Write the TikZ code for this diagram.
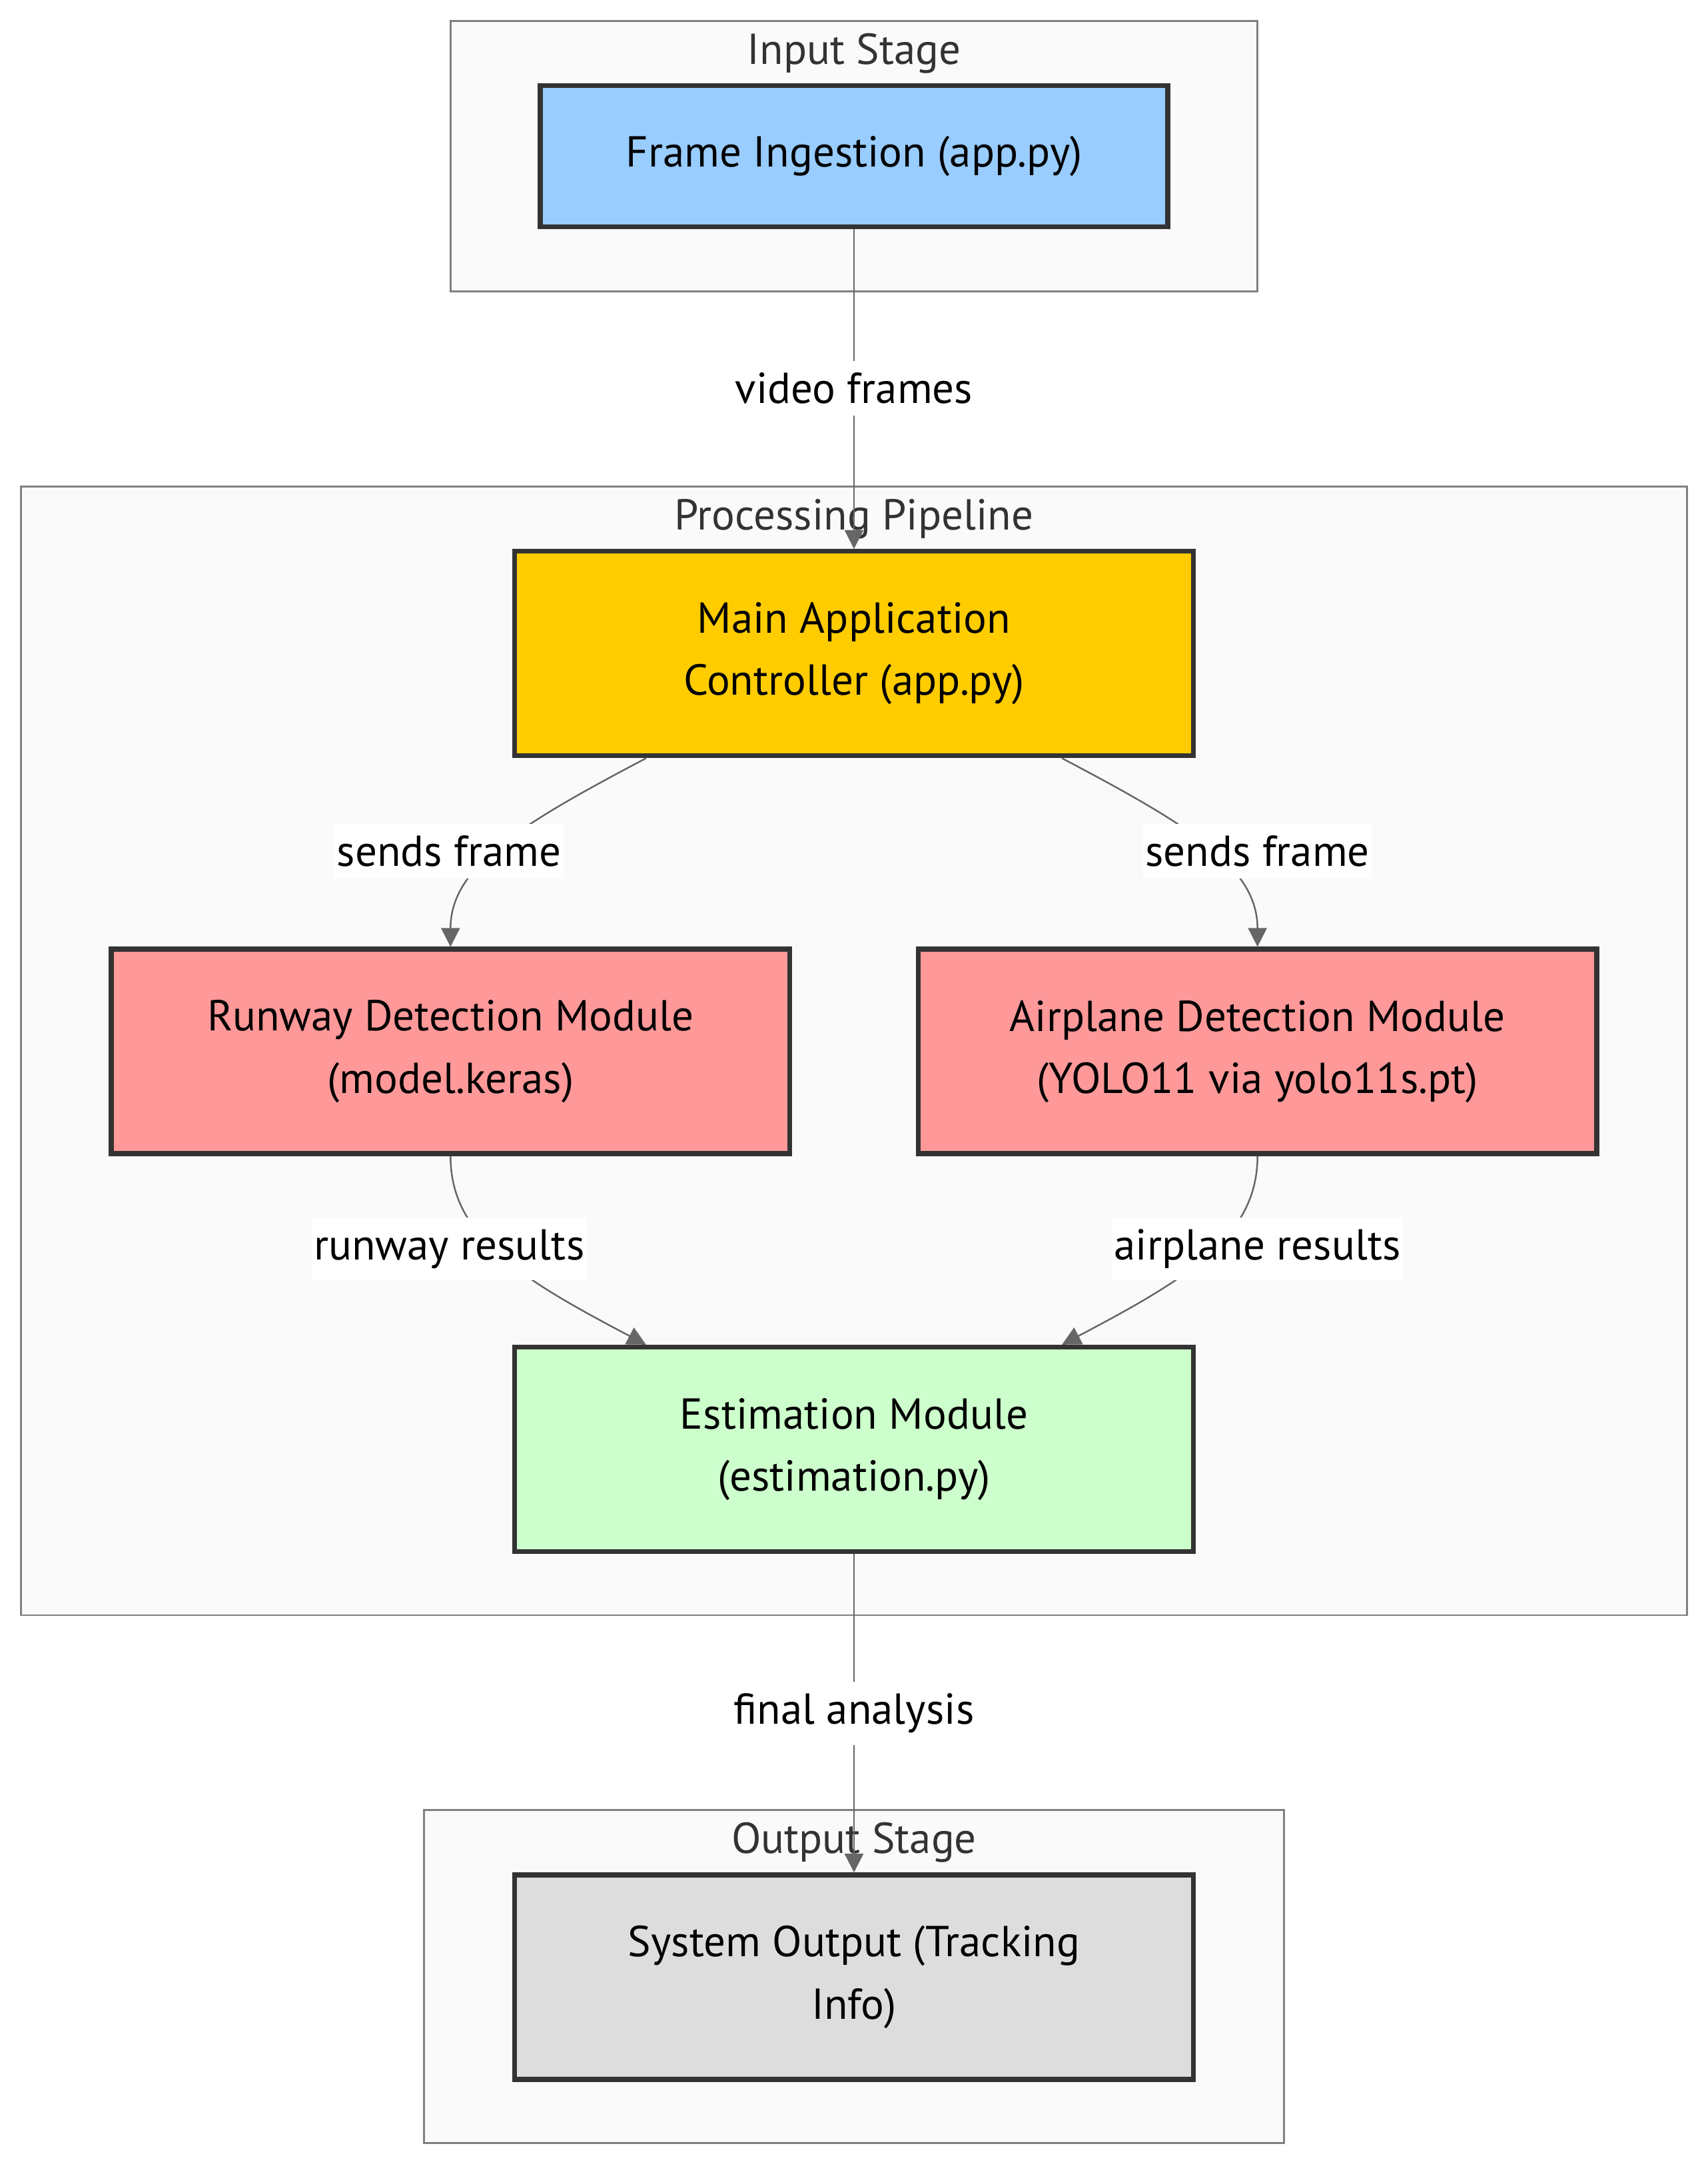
\documentclass[tikz,border=0pt]{standalone}
\usepackage{fontspec}
\setmainfont{PT Sans}
\usepackage{tikz}
\usetikzlibrary{arrows.meta, calc}
\definecolor{inblue}{HTML}{99CCFF}
\definecolor{ctrlyellow}{HTML}{FFCC00}
\definecolor{detred}{HTML}{FF9999}
\definecolor{estgreen}{HTML}{CCFFCC}
\definecolor{outgray}{HTML}{DDDDDD}
\definecolor{boxline}{HTML}{333333}
\definecolor{edgegray}{HTML}{666666}
\definecolor{clusterfill}{HTML}{FAFAFA}
\definecolor{clusterline}{HTML}{808080}
\tikzstyle{cluster} = [draw = clusterline, fill = clusterfill, line width=0.8pt]
\tikzstyle{clustertitle} = [text = boxline, font=\fontsize{18.5}{22}\selectfont]
\tikzstyle{ingest} = [rectangle, minimum width=9.418cm, minimum height=2.116cm, text centered, align=center, draw = boxline, line width=2.1pt, fill = inblue, font=\fontsize{18.5}{26.5}\selectfont]
\tikzstyle{control} = [rectangle, minimum width=10.185cm, minimum height=3.07cm, text centered, align=center, draw = boxline, line width=2.1pt, fill = ctrlyellow, font=\fontsize{18.5}{26.5}\selectfont]
\tikzstyle{detect} = [control, fill = detred]
\tikzstyle{estimate} = [control, fill = estgreen]
\tikzstyle{sysout} = [control, fill = outgray]
\tikzstyle{edgelabel} = [fill = white, inner xsep=1pt, inner ysep=5pt, font=\fontsize{18.5}{22}\selectfont]
\tikzstyle{arrow} = [-{Triangle[length=8pt, width=8pt]}, draw = edgegray, line width=0.7pt]

\begin{document}
\begin{tikzpicture}
	\useasboundingbox (0,0) rectangle (25.64,-32.52);
	% subgraphs
	\draw [cluster] (6.763,-0.311) rectangle (18.877,-4.377);
	\draw [cluster] (0.311,-7.302) rectangle (25.328,-24.250);
	\draw [cluster] (6.368,-27.175) rectangle (19.271,-32.174);
	\node (intitle) [clustertitle] at (12.82,-0.80) {Input Stage};
	\node (proctitle) [clustertitle] at (12.82,-7.79) {Processing Pipeline};
	\node (outtitle) [clustertitle] at (12.82,-27.66) {Output Stage};

	\node (frame) [ingest] at (12.82,-2.344) {Frame Ingestion (app.py)};
	\node (main) [control, below of=frame, node distance=5.974cm, yshift=-1.494cm] {Main Application\\Controller (app.py)};
	\node (runway) [detect, below of=main, node distance=5.974cm, xshift=-6.057cm] {Runway Detection Module\\(model.keras)};
	\node (airplane) [detect, below of=main, node distance=5.974cm, xshift=6.057cm] {Airplane Detection Module\\(YOLO11 via yolo11s.pt)};
	\node (estim) [estimate, below of=main, node distance=11.948cm] {Estimation Module\\(estimation.py)};
	\node (output) [sysout, below of=estim, node distance=5.974cm, yshift=-1.95cm] {System Output (Tracking\\Info)};

	\draw [arrow](frame) -- (main);
	\draw [arrow]($(main.south)+(-3.122,0)$) .. controls +(-1.9,-1.0) and +(0,1.2) .. (runway.north);
	\draw [arrow]($(main.south)+(3.122,0)$) .. controls +(1.9,-1.0) and +(0,1.2) .. (airplane.north);
	\draw [arrow](runway.south) .. controls +(0,-1.2) and +(-1.9,1.0) .. ($(estim.north)+(-3.122,0)$);
	\draw [arrow](airplane.south) .. controls +(0,-1.2) and +(1.9,1.0) .. ($(estim.north)+(3.122,0)$);
	\draw [arrow](estim) -- (output);

	\node (lblvideo) [edgelabel] at (12.82,-5.829) {video frames};
	\node (lblsendl) [edgelabel] at (6.742,-12.778) {sends frame};
	\node (lblsendr) [edgelabel] at (18.877,-12.778) {sends frame};
	\node (lblrunway) [edgelabel] at (6.742,-18.753) {runway results};
	\node (lblplane) [edgelabel] at (18.877,-18.753) {airplane results};
	\node (lblfinal) [edgelabel] at (12.82,-25.723) {final analysis};
\end{tikzpicture}
\end{document}
